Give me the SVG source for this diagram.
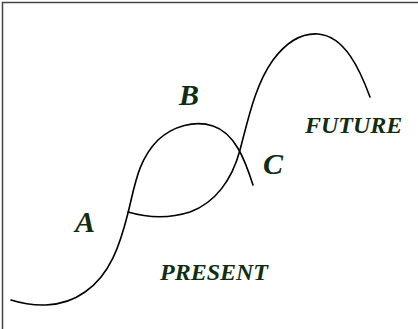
<svg xmlns="http://www.w3.org/2000/svg" width="418" height="329" viewBox="0 0 418 329">
<style>
.lbl{font-family:"Liberation Serif","Times New Roman",serif;font-weight:bold;font-style:italic;fill:#0f2d0f}
.big{font-size:30px}
.word{font-size:24px}
.crv{fill:none;stroke:#000;stroke-width:1.6;stroke-linecap:round;stroke-linejoin:round}
</style>
<rect width="418" height="329" fill="#fff"/>
<path d="M2.5,329 V2.5 H418" fill="none" stroke="#444" stroke-width="1.5"/>
<g id="connectors">
<path class="crv" d="M11,300 C30,306 60,310 85,292 C110,275 120,245 128,213 C135,185 138,160 158,140 C173,126 195,120 213,126 C235,133 245,160 253,185"/>
<path class="crv" d="M128,212 C145,217 165,220 190,212 C215,203 232,180 240,150 C248,120 255,85 273,60 C288,40 303,33 318,34 C345,36 360,70 370,97"/>
</g>
<g id="A"><text class="lbl big" x="75" y="232">A</text></g>
<g id="B"><text class="lbl big" x="179" y="105">B</text></g>
<g id="C"><text class="lbl big" x="263" y="174">C</text></g>
<g id="FUTURE"><text class="lbl word" x="305" y="133">FUTURE</text></g>
<g id="PRESENT"><text class="lbl word" x="160" y="280">PRESENT</text></g>
</svg>
